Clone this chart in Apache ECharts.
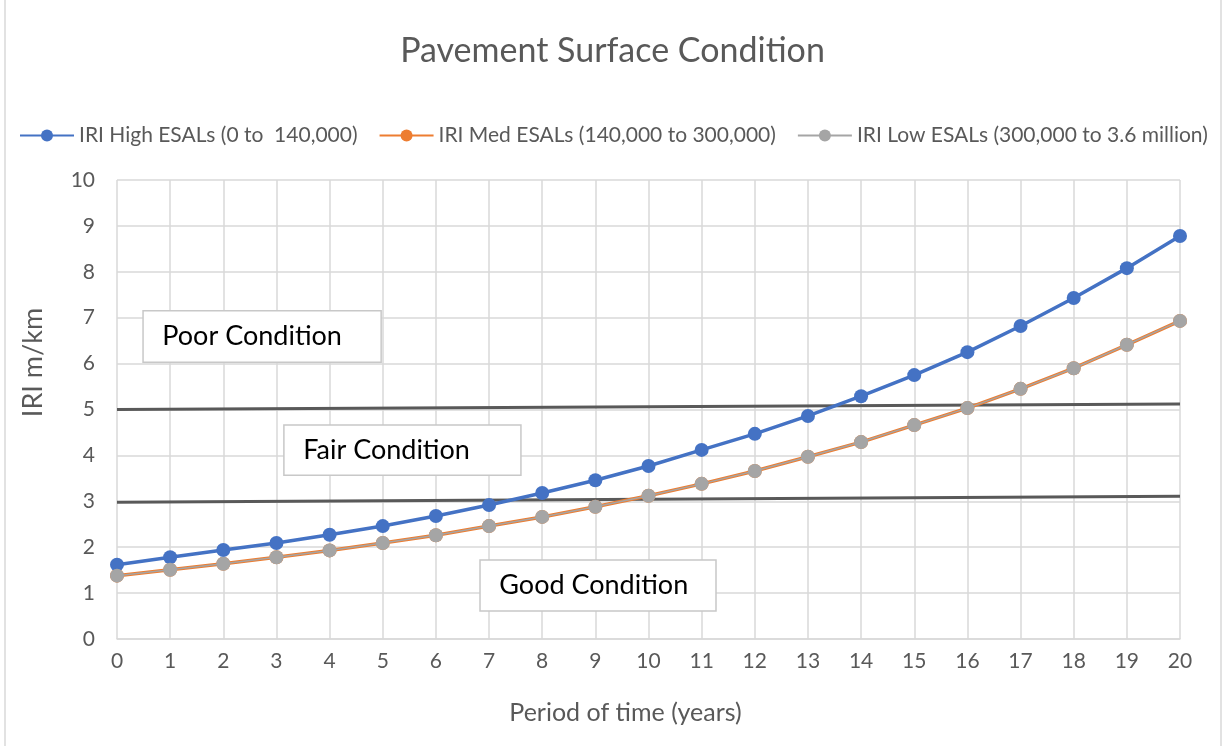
<!DOCTYPE html>
<html>
<head>
<meta charset="utf-8">
<script src="https://cdn.jsdelivr.net/npm/echarts@6/dist/echarts.min.js"></script>
<style>html,body{margin:0;padding:0;background:#fff}#c{width:1225px;height:746px}</style>
</head>
<body>
<div id="c"></div>
<script>
const years = [0,1,2,3,4,5,6,7,8,9,10,11,12,13,14,15,16,17,18,19,20];
const iriHigh = [1.62,1.78,1.94,2.09,2.27,2.46,2.68,2.92,3.18,3.46,3.77,4.12,4.47,4.86,5.29,5.75,6.25,6.82,7.43,8.08,8.78];
const iriMed  = [1.38,1.51,1.64,1.78,1.93,2.09,2.26,2.46,2.66,2.88,3.12,3.38,3.66,3.97,4.29,4.66,5.03,5.45,5.90,6.41,6.93];
const iriLow  = [1.38,1.51,1.64,1.78,1.93,2.09,2.26,2.46,2.66,2.88,3.12,3.38,3.66,3.97,4.29,4.66,5.03,5.45,5.90,6.41,6.93];
const poorLine = [[0,5.0],[20,5.12]];
const fairLine = [[0,2.98],[20,3.11]];
const boxes = [
  {name:'Poor Condition', x:[0.49,4.97], y:[6.03,7.15]},
  {name:'Fair Condition', x:[3.14,7.6], y:[3.57,4.66]},
  {name:'Good Condition', x:[6.83,11.27], y:[0.61,1.72]}
];
const names = ['IRI High ESALs (0 to  140,000)','IRI Med ESALs (140,000 to 300,000)','IRI Low ESALs (300,000 to 3.6 million)'];

const FONT = 'Lato';
const pair = a => a.map((v,i)=>[years[i],v]);
const chart = echarts.init(document.getElementById('c'), null, {renderer:'canvas'});
chart.setOption({
  backgroundColor:'#fff',
  animation:false,
  textStyle:{fontFamily:FONT},
  title:{text:'Pavement Surface Condition',left:'center',top:29,textStyle:{fontFamily:FONT,fontSize:34,fontWeight:'normal',color:'#595959'}},
  legend:{data:names,left:14,top:120,itemWidth:54,itemHeight:15,itemGap:21,
    textStyle:{fontFamily:FONT,fontSize:21,color:'#595959'}},
  grid:{left:117,right:45,top:180,bottom:107,containLabel:false},
  xAxis:{type:'value',min:0,max:20,interval:1,
    name:'Period of time (years)',nameLocation:'middle',nameGap:61,
    nameTextStyle:{fontFamily:FONT,fontSize:25,color:'#595959',padding:[0,46,0,0]},
    axisLine:{show:true,lineStyle:{color:'#d9d9d9',width:1.5}},
    axisTick:{show:false},
    axisLabel:{fontFamily:FONT,fontSize:21,color:'#595959',margin:12},
    splitLine:{show:true,lineStyle:{color:'#d9d9d9',width:1.5}}},
  yAxis:{type:'value',min:0,max:10,interval:1,
    name:'IRI m/km',nameLocation:'middle',nameGap:70,nameRotate:90,
    nameTextStyle:{fontFamily:FONT,fontSize:27,color:'#595959',padding:[0,0,0,94]},
    axisLine:{show:false},axisTick:{show:false},
    axisLabel:{fontFamily:FONT,fontSize:21,color:'#595959',margin:22},
    splitLine:{show:true,lineStyle:{color:'#d9d9d9',width:1.5}}},
  graphic:[{type:'rect',shape:{x:5,y:-2,width:1216,height:760},style:{fill:'none',stroke:'#d9d9d9',lineWidth:1.5},z:-1}],
  series:[
    {type:'line',name:'boxes',data:[],silent:true,z:1,
      markArea:{silent:true,
        itemStyle:{color:'#ffffff',borderColor:'#c8c8c8',borderWidth:1.5},
        label:{show:true,position:'insideLeft',distance:20,fontFamily:FONT,fontSize:27,color:'#000'},
        data:boxes.map(b=>[{name:b.name,coord:[b.x[0],b.y[1]]},{coord:[b.x[1],b.y[0]]}])}},
    {type:'line',name:'poor',data:poorLine,symbol:'none',lineStyle:{color:'#595959',width:3},z:3,silent:true},
    {type:'line',name:'fair',data:fairLine,symbol:'none',lineStyle:{color:'#595959',width:3},z:3,silent:true},
    {type:'line',name:names[0],data:pair(iriHigh),symbol:'circle',symbolSize:14,
      lineStyle:{color:'#4472C4',width:3.5},itemStyle:{color:'#4472C4'},z:5},
    {type:'line',name:names[1],data:pair(iriMed),symbol:'circle',symbolSize:14,
      lineStyle:{color:'#ED7D31',width:3.5},itemStyle:{color:'#ED7D31'},z:4},
    {type:'line',name:names[2],data:pair(iriLow),symbol:'circle',symbolSize:14,
      lineStyle:{color:'#A5A5A5',width:1.5},itemStyle:{color:'#A5A5A5'},z:6}
  ]
});
</script>
</body>
</html>
